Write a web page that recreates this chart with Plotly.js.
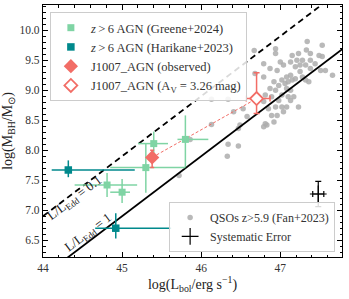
<!DOCTYPE html>
<html><head><meta charset="utf-8">
<script src="https://cdn.plot.ly/plotly-3.0.1.min.js"></script>
<style>body{margin:0;padding:0;background:#fff}#chart{width:349px;height:299px}</style>
</head><body><div id="chart"></div>
<script>
// QSOs z>5.9 (Fan+2023)
const qsoX = [47.34,47.53,46.94,46.67,47.33,46.94,47.15,47.23,47.28,47.38,
47.49,47.53,47.00,47.13,47.21,47.38,47.44,46.79,47.04,47.19,
47.25,47.32,46.87,46.96,47.38,47.51,47.57,47.66,46.68,47.25,
47.13,47.08,47.28,46.79,47.02,47.15,47.19,47.32,46.92,47.06,
47.36,47.10,46.98,46.87,47.13,47.08,46.81,46.94,47.02,47.10,
47.17,46.89,47.13,46.98,46.13,46.34,46.79,46.85,46.94,47.02,
47.08,47.23,46.53,46.41,46.58,47.04,46.96,46.89,46.81,46.83,
46.79,46.92,46.49,46.47,46.13,46.34,46.47,45.86,45.72,46.33];
const qsoY = [9.81,9.75,9.69,9.66,9.67,9.61,9.58,9.61,9.50,9.61,
9.58,9.56,9.47,9.47,9.50,9.50,9.44,9.44,9.42,9.39,
9.42,9.42,9.36,9.33,9.36,9.33,9.33,9.25,9.28,9.31,
9.25,9.22,9.22,9.22,9.17,9.17,9.19,9.17,9.14,9.11,
9.14,9.14,9.08,9.03,9.00,9.03,8.92,9.00,8.92,8.89,
8.89,8.89,8.83,8.83,8.85,8.85,8.81,8.69,8.72,8.72,
8.72,8.72,8.69,8.64,8.56,8.64,8.58,8.58,8.44,8.42,
8.39,8.47,8.42,8.36,8.43,8.10,8.07,8.18,7.58,7.90];

// z>6 AGN (Greene+2024)
const greeneX = [44.81, 45.00, 45.30, 45.40, 45.80];
const greeneY = [7.42, 7.30, 7.71, 8.11, 8.18];
const greeneXerrMinus = [0.41, 0.15, 0.45, 0.20, 0.10];
const greeneXerrPlus  = [0.38, 0.10, 0.50, 0.18, 0.29];
const greeneYerrMinus = [0.20, 0.18, 0.42, 0.20, 0.46];
const greeneYerrPlus  = [0.20, 0.22, 0.40, 0.20, 0.40];

// z>6 AGN (Harikane+2023)
const harikaneX = [44.32, 44.92];
const harikaneY = [7.67, 6.70];
const harikaneXerrMinus = [0.21, 0.26];
const harikaneXerrPlus  = [0.84, 0.70];
const harikaneYerrMinus = [0.12, 0.17];
const harikaneYerrPlus  = [0.16, 0.25];

// J1007_AGN
const j1007ObsX = [45.38], j1007ObsY = [7.88];
const j1007ObsXerr = [0.04], j1007ObsYerrMinus = [0.17], j1007ObsYerrPlus = [0.12];
const j1007AvX = [46.70], j1007AvY = [8.86];
const j1007AvXerrMinus = [0.13], j1007AvXerrPlus = [0.17];
const j1007AvYerrMinus = [0.25], j1007AvYerrPlus = [0.43];

// Systematic error
const sysX = [47.48], sysY = [7.27], sysXerr = [0.07], sysYerr = [0.21];

// Eddington ratio lines
const eddRatios = [1, 0.1];
const eddLabels = ['L/L<sub>Edd</sub> = 1', 'L/L<sub>Edd</sub> = 0.1'];
const lineLbol = [43.5, 48.5];
const logLeddPerMsun = Math.log10(1.26e38);

const xTicks = [44, 45, 46, 47];
const yTicks = [6.5, 7.0, 7.5, 8.0, 8.5, 9.0, 9.5, 10.0];

const FONT = 'Liberation Serif, Times New Roman, serif';
const GREEN = '#7fd4a4', TEAL = '#00898c', SALMON = '#f26d66', GRAY = '#adadad';
const TS = '\u2009';

const traces = [];
traces.push({x: qsoX, y: qsoY, mode: 'markers', type: 'scatter', name: 'QSOs z&gt;5.9 (Fan+2023)',
  legend: 'legend2', marker: {color: GRAY, size: 5.5, opacity: 0.85}});
eddRatios.forEach((r, i) => {
  traces.push({x: lineLbol, y: lineLbol.map(v => v - logLeddPerMsun - Math.log10(r)), mode: 'lines',
    type: 'scatter', showlegend: false, hoverinfo: 'skip',
    line: {color: 'black', width: 1.8, dash: r === 1 ? 'solid' : '6px,4px'}});
});
traces.push({x: [j1007ObsX[0], j1007AvX[0]], y: [j1007ObsY[0], j1007AvY[0]], mode: 'lines', type: 'scatter',
  showlegend: false, line: {color: SALMON, width: 1, dash: '3px,2px'}});
traces.push({x: greeneX, y: greeneY, mode: 'markers', type: 'scatter', name: '<i>z</i>' + TS + '&gt;' + TS + '6 AGN (Greene+2024)',
  marker: {color: GREEN, size: 7, symbol: 'square'},
  error_x: {type: 'data', symmetric: false, array: greeneXerrPlus, arrayminus: greeneXerrMinus, color: GREEN, thickness: 1.5, width: 0},
  error_y: {type: 'data', symmetric: false, array: greeneYerrPlus, arrayminus: greeneYerrMinus, color: GREEN, thickness: 1.5, width: 0}});
traces.push({x: harikaneX, y: harikaneY, mode: 'markers', type: 'scatter', name: '<i>z</i>' + TS + '&gt;' + TS + '6 AGN (Harikane+2023)',
  marker: {color: TEAL, size: 7.5, symbol: 'square'},
  error_x: {type: 'data', symmetric: false, array: harikaneXerrPlus, arrayminus: harikaneXerrMinus, color: TEAL, thickness: 1.5, width: 0},
  error_y: {type: 'data', symmetric: false, array: harikaneYerrPlus, arrayminus: harikaneYerrMinus, color: TEAL, thickness: 1.5, width: 0}});
traces.push({x: j1007ObsX, y: j1007ObsY, mode: 'markers', type: 'scatter', name: 'J1007_AGN (observed)',
  marker: {color: SALMON, size: 11, symbol: 'diamond'},
  error_x: {type: 'data', array: j1007ObsXerr, color: SALMON, thickness: 1.5, width: 2},
  error_y: {type: 'data', symmetric: false, array: j1007ObsYerrPlus, arrayminus: j1007ObsYerrMinus, color: SALMON, thickness: 1.5, width: 2}});
traces.push({x: j1007AvX, y: j1007AvY, mode: 'markers', type: 'scatter', name: 'J1007_AGN (A<sub>V</sub> = 3.26 mag)',
  marker: {color: 'white', size: 10, symbol: 'diamond', line: {color: SALMON, width: 1.8}},
  error_x: {type: 'data', symmetric: false, array: j1007AvXerrPlus, arrayminus: j1007AvXerrMinus, color: SALMON, thickness: 1.5, width: 3},
  error_y: {type: 'data', symmetric: false, array: j1007AvYerrPlus, arrayminus: j1007AvYerrMinus, color: SALMON, thickness: 1.5, width: 3}});
traces.push({x: sysX, y: sysY, mode: 'markers', type: 'scatter', name: 'Systematic Error', legend: 'legend2',
  marker: {color: 'black', size: 12, symbol: 'cross-thin-open', line: {color: 'black', width: 1.2}},
  error_x: {type: 'data', array: sysXerr, color: 'black', thickness: 1.2, width: 3},
  error_y: {type: 'data', array: sysYerr, color: 'black', thickness: 1.2, width: 3}});

const axisCommon = {showgrid: false, zeroline: false, showline: true, linecolor: 'black', linewidth: 1.2,
  mirror: 'allticks', ticks: 'inside', ticklen: 5, tickwidth: 1, tickcolor: 'black',
  tickfont: {family: FONT, size: 11.5, color: '#333'}};

const legendFont = {family: FONT, size: 12.5, color: '#333'};
const layout = {
  width: 349, height: 299,
  margin: {l: 43, r: 7, t: 5, b: 42},
  paper_bgcolor: 'white', plot_bgcolor: 'white',
  font: {family: FONT, color: '#222'},
  xaxis: Object.assign({}, axisCommon, {range: [44, 47.78], tickvals: xTicks, ticktext: xTicks.map(String),
    minor: {ticks: 'inside', dtick: 0.2, tick0: 44, ticklen: 2.5, tickcolor: 'black'},
    title: {text: 'log(L<sub>bol</sub>/erg s<sup>−1</sup>)', font: {family: FONT, size: 14}, standoff: 3}}),
  yaxis: Object.assign({}, axisCommon, {range: [6.22, 10.42], tickvals: yTicks, ticktext: yTicks.map(v => v.toFixed(1)),
    minor: {ticks: 'inside', dtick: 0.1, tick0: 6, ticklen: 2.5, tickcolor: 'black'},
    title: {text: 'log(M<sub>BH</sub>/M<sub>⊙</sub>)', font: {family: FONT, size: 14}, standoff: 4}}),
  legend: {x: 0.023, y: 0.972, xanchor: 'left', yanchor: 'top', bgcolor: 'rgba(255,255,255,0.85)',
    bordercolor: '#cccccc', borderwidth: 1, font: legendFont, tracegroupgap: 0},
  legend2: {x: 0.977, y: 0.02, xanchor: 'right', yanchor: 'bottom', bgcolor: 'rgba(255,255,255,0.85)',
    bordercolor: '#cccccc', borderwidth: 1, font: {family: FONT, size: 12, color: '#333'}},
  annotations: [
    {x: 44.58, y: 6.63, xref: 'x', yref: 'y', text: eddLabels[0], showarrow: false, textangle: -37,
     font: {family: FONT, size: 13, color: '#222'}},
    {x: 44.4, y: 7.19, xref: 'x', yref: 'y', text: eddLabels[1], showarrow: false, textangle: -37,
     font: {family: FONT, size: 13, color: '#222'}}
  ],
  showlegend: true
};
Plotly.newPlot('chart', traces, layout, {displayModeBar: false, staticPlot: true});
</script>
</body></html>
